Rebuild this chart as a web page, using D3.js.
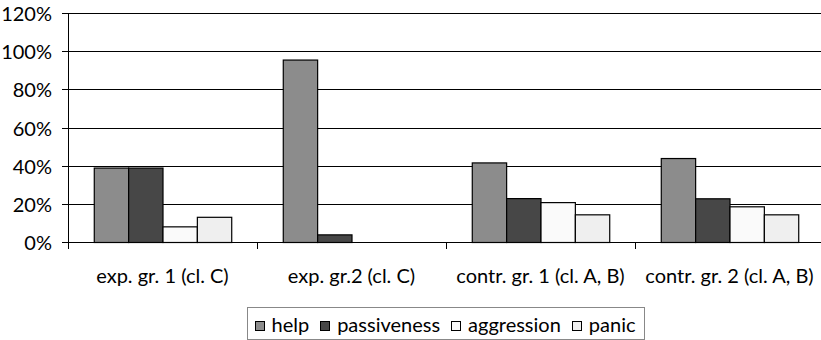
<!DOCTYPE html>
<html>
<head>
<meta charset="utf-8">
<script src="https://cdn.jsdelivr.net/npm/d3@7"></script>
<style>
html, body { margin: 0; padding: 0; background: #fff; }
svg { display: block; }
text { font-family: Lato, "Noto Sans", sans-serif; fill: #000; }
</style>
</head>
<body>
<svg id="chart" width="821" height="340"></svg>
<script>
const categories = ["exp. gr. 1 (cl. C)", "exp. gr.2 (cl. C)", "contr. gr. 1 (cl. A, B)", "contr. gr. 2 (cl. A, B)"];
const seriesNames = ["help", "passiveness", "aggression", "panic"];
const help = [0.39, 0.956, 0.417, 0.44];
const passiveness = [0.39, 0.04, 0.23, 0.229];
const aggression = [0.082, 0, 0.209, 0.187];
const panic = [0.132, 0, 0.145, 0.145];
const yTicks = [0, 0.2, 0.4, 0.6, 0.8, 1.0, 1.2];
const colors = ["#8c8c8c", "#474747", "#fafafa", "#efefef"];

(function () {
const seriesValues = [help, passiveness, aggression, panic];
const svg = d3.select("#chart");
const pLeft = 68, pRight = 824, pTop = 13, pBottom = 242;
const fontSize = 20;

const x0 = d3.scaleBand().domain(categories).range([pLeft, pRight]).paddingInner(0).paddingOuter(0);
const x1 = d3.scaleBand().domain(seriesNames).range([0, x0.bandwidth()]).paddingInner(0).paddingOuter(0.75);
const y = d3.scaleLinear().domain([0, 1.2]).range([pBottom, pTop]);

// gridlines
svg.append("g").selectAll("line").data(yTicks).join("line")
  .attr("x1", pLeft - 6).attr("x2", pRight)
  .attr("y1", d => Math.round(y(d)) + 0.5).attr("y2", d => Math.round(y(d)) + 0.5)
  .attr("stroke", "#000").attr("stroke-width", 1);

// y labels
svg.append("g").selectAll("text").data(yTicks).join("text")
  .attr("x", 52).attr("y", d => y(d) + 3)
  .attr("text-anchor", "end").attr("dominant-baseline", "middle")
  .attr("font-size", fontSize)
  .text(d3.format(".0%"));

// bars
const groups = svg.append("g").selectAll("g").data(categories).join("g")
  .attr("transform", d => `translate(${x0(d)},0)`);
groups.selectAll("rect").data((c, i) => seriesNames.map((s, j) => ({ s, j, v: seriesValues[j][i] })).filter(d => d.v > 0))
  .join("rect")
  .attr("x", d => x1(d.s) + 0.5)
  .attr("width", x1.bandwidth())
  .attr("y", d => y(d.v) + 0.5)
  .attr("height", d => y(0) - y(d.v))
  .attr("fill", d => colors[d.j])
  .attr("stroke", "#000").attr("stroke-width", 1.2);

// axes lines
svg.append("line").attr("x1", pLeft + 0.5).attr("x2", pLeft + 0.5).attr("y1", pTop).attr("y2", pBottom + 7)
  .attr("stroke", "#000");
svg.append("line").attr("x1", pLeft - 6).attr("x2", pRight).attr("y1", pBottom + 0.5).attr("y2", pBottom + 0.5)
  .attr("stroke", "#000");
// category ticks
const catEdges = categories.map(c => x0(c)).concat([pRight]);
svg.append("g").selectAll("line").data(catEdges).join("line")
  .attr("x1", d => Math.round(d) + 0.5).attr("x2", d => Math.round(d) + 0.5)
  .attr("y1", pBottom).attr("y2", pBottom + 7)
  .attr("stroke", "#000");

// category labels
svg.append("g").selectAll("text").data(categories).join("text")
  .attr("x", d => x0(d) + x0.bandwidth() / 2)
  .attr("y", 283)
  .attr("text-anchor", "middle")
  .attr("font-size", fontSize)
  .text(d => d);

// legend
const lg = svg.append("g");
const legendBox = lg.append("rect").attr("fill", "#fff").attr("stroke", "#888").attr("stroke-width", 1);
const items = [];
seriesNames.forEach((s, j) => {
  const sq = lg.append("rect").attr("width", 9).attr("height", 9)
    .attr("fill", colors[j]).attr("stroke", "#000").attr("stroke-width", 1);
  const t = lg.append("text").attr("font-size", fontSize).text(s);
  items.push({ sq, t, w: t.node().getComputedTextLength() });
});
const sqW = 9, gap1 = 8, gap2 = 11, pad = 8;
let total = 0;
items.forEach((it, i) => { total += sqW + gap1 + it.w + (i < items.length - 1 ? gap2 : 0); });
const lcx = 445;
let lx = lcx - total / 2;
items.forEach(it => {
  it.sq.attr("x", Math.round(lx) + 0.5).attr("y", 321.5);
  lx += sqW + gap1;
  it.t.attr("x", lx).attr("y", 332);
  lx += it.w + gap2;
});
legendBox.attr("x", Math.round(lcx - total / 2 - pad) + 0.5).attr("y", 307.5)
  .attr("width", Math.round(total + 2 * pad)).attr("height", 32);
})();
</script>
</body>
</html>
